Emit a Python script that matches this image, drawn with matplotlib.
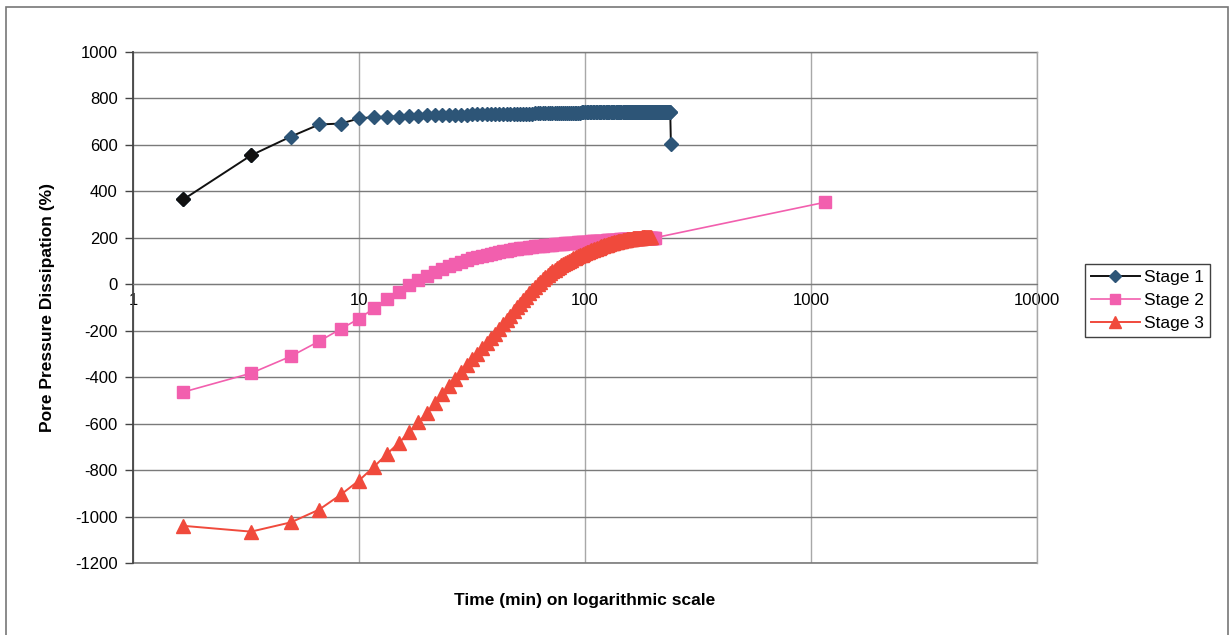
import matplotlib
matplotlib.use("Agg")
import matplotlib.pyplot as plt
from matplotlib.patches import Rectangle
from matplotlib.ticker import FixedLocator, FixedFormatter, NullLocator

plt.rcParams['font.family'] = ['Liberation Sans', 'DejaVu Sans']
plt.rcParams['axes.unicode_minus'] = False

# readings every 100 s, in minutes
minutes = [
    1.67, 3.33, 5.0, 6.67, 8.33, 10.0, 11.67, 13.33, 15.0, 16.67, 18.33, 20.0,
    21.67, 23.33, 25.0, 26.67, 28.33, 30.0, 31.67, 33.33, 35.0, 36.67, 38.33, 40.0,
    41.67, 43.33, 45.0, 46.67, 48.33, 50.0, 51.67, 53.33, 55.0, 56.67, 58.33, 60.0,
    61.67, 63.33, 65.0, 66.67, 68.33, 70.0, 71.67, 73.33, 75.0, 76.67, 78.33, 80.0,
    81.67, 83.33, 85.0, 86.67, 88.33, 90.0, 91.67, 93.33, 95.0, 96.67, 98.33, 100.0,
    101.67, 103.33, 105.0, 106.67, 108.33, 110.0, 111.67, 113.33, 115.0, 116.67, 118.33, 120.0,
    121.67, 123.33, 125.0, 126.67, 128.33, 130.0, 131.67, 133.33, 135.0, 136.67, 138.33, 140.0,
    141.67, 143.33, 145.0, 146.67, 148.33, 150.0, 151.67, 153.33, 155.0, 156.67, 158.33, 160.0,
    161.67, 163.33, 165.0, 166.67, 168.33, 170.0, 171.67, 173.33, 175.0, 176.67, 178.33, 180.0,
    181.67, 183.33, 185.0, 186.67, 188.33, 190.0, 191.67, 193.33, 195.0, 196.67, 198.33, 200.0,
    201.67, 203.33, 205.0, 206.67, 208.33, 210.0, 211.67, 213.33, 215.0, 216.67, 218.33, 220.0,
    221.67, 223.33, 225.0, 226.67, 228.33, 230.0, 231.67, 233.33, 235.0, 236.67, 238.33, 240.0,
]

stage1 = [
    365, 555, 636, 688, 692, 714, 720, 722, 722, 725, 726, 727,
    728, 728, 729, 729, 730, 730, 731, 731, 731, 732, 732, 732,
    733, 733, 733, 734, 734, 734, 734, 735, 735, 735, 735, 736,
    736, 736, 736, 736, 737, 737, 737, 737, 737, 738, 738, 738,
    738, 738, 738, 739, 739, 739, 739, 739, 739, 740, 740, 740,
    740, 740, 740, 740, 741, 740, 741, 741, 740, 741, 741, 741,
    741, 741, 741, 741, 741, 741, 741, 741, 741, 741, 741, 741,
    741, 742, 741, 742, 742, 741, 742, 742, 742, 742, 742, 742,
    742, 742, 742, 742, 742, 742, 742, 742, 742, 742, 742, 742,
    742, 742, 742, 742, 742, 742, 742, 742, 742, 742, 742, 742,
    742, 742, 743, 742, 743, 743, 742, 743, 743, 743, 743, 743,
    743, 743, 743, 743, 743, 743, 743, 743, 743, 743, 743, 605,
]

stage2 = [
    -464, -383, -310, -245, -192, -148, -103, -65, -32, -5, 17, 36,
    51, 65, 77, 88, 97, 105, 111, 117, 122, 126, 131, 135,
    138, 142, 145, 148, 150, 153, 155, 156, 158, 160, 161, 163,
    164, 165, 166, 167, 169, 170, 171, 172, 172, 173, 174, 175,
    176, 176, 177, 178, 178, 179, 179, 180, 181, 181, 182, 183,
    183, 184, 184, 185, 185, 185, 186, 186, 187, 187, 187, 188,
    188, 188, 189, 189, 190, 190, 190, 191, 191, 191, 192, 192,
    192, 193, 193, 193, 194, 194, 194, 195, 195, 195, 196, 196,
    196, 196, 197, 197, 197, 197, 197, 198, 198, 198, 198, 198,
    198, 199, 199, 199, 199, 199, 199, 199, 200, 200, 200, 200,
    200, 200,
]
stage2_last_time = 1153
stage2_last_value = 353

stage3 = [
    -1040, -1065, -1025, -970, -905, -845, -785, -730, -683, -637, -593, -553,
    -512, -474, -439, -406, -377, -349, -323, -299, -276, -254, -232, -212,
    -192, -172, -153, -135, -117, -100, -84, -68, -53, -38, -24, -10,
    1, 11, 21, 31, 41, 50, 57, 63, 70, 76, 82, 88,
    93, 97, 102, 106, 111, 115, 118, 122, 125, 128, 132, 135,
    138, 140, 143, 146, 148, 151, 153, 156, 158, 160, 163, 165,
    167, 169, 170, 172, 174, 176, 177, 179, 181, 182, 184, 185,
    186, 187, 188, 189, 190, 191, 192, 193, 194, 195, 196, 197,
    197, 198, 198, 199, 199, 199, 200, 200, 201, 201, 202, 202,
    202, 203, 203, 203, 204, 204, 204, 205, 205,
]

x_ticks = [1, 10, 100, 1000, 10000]
x_labels = ['1', '10', '100', '1000', '10000']
y_ticks = list(range(-1200, 1001, 200))

fig = plt.figure(figsize=(12.31, 6.35), dpi=100)
ax = fig.add_axes([0.108, 0.1134, 0.7344, 0.8047])

t1 = minutes[:len(stage1)]
t2 = minutes[:len(stage2)] + [stage2_last_time]
v2 = stage2 + [stage2_last_value]
t3 = minutes[:len(stage3)]

ax.plot(t1, stage1, color='#111111', lw=1.4, marker='D', ms=7.5,
        mfc='#2d5577', mec='#2d5577', label='Stage 1', zorder=3)
# first two readings print dark
ax.plot(t1[:2], stage1[:2], ls='none', marker='D', ms=7.5,
        mfc='#111111', mec='#111111', zorder=3)
ax.plot(t2, v2, color='#f25fae', lw=1.2, marker='s', ms=8.5,
        mfc='#f25fae', mec='#f25fae', label='Stage 2', zorder=4)
ax.plot(t3, stage3, color='#f04a3c', lw=1.4, marker='^', ms=9.5,
        mfc='#f04a3c', mec='#f04a3c', label='Stage 3', zorder=5)

ax.set_xscale('log')
ax.set_xlim(1, 10000)
ax.set_ylim(-1200, 1000)
ax.xaxis.set_major_locator(FixedLocator(x_ticks))
ax.xaxis.set_major_formatter(FixedFormatter(x_labels))
ax.xaxis.set_minor_locator(NullLocator())
ax.set_yticks(y_ticks)
ax.set_yticklabels([str(v) for v in y_ticks])

ax.grid(True, axis='y', color='#7a7a7a', lw=1.0, zorder=1)
ax.grid(True, axis='x', color='#a8a8a8', lw=1.0, zorder=1)
ax.set_axisbelow(True)
# keep the edge gridlines from being clipped
ax.axhline(-1200, color='#7a7a7a', lw=1.2, clip_on=False, zorder=1)
ax.axhline(1000, color='#7a7a7a', lw=1.0, clip_on=False, zorder=1)
ax.axvline(10000, color='#a8a8a8', lw=1.0, clip_on=False, zorder=1)

for side in ['top', 'right']:
    ax.spines[side].set_visible(False)
ax.spines['left'].set_color('#444444')
ax.spines['left'].set_linewidth(1.3)
ax.spines['bottom'].set_position(('data', 0))
ax.spines['bottom'].set_color('#7a7a7a')

ax.tick_params(axis='x', length=0, pad=6, labelsize=12)
ax.tick_params(axis='y', length=6, width=1, color='#444444', pad=5, labelsize=12)

ax.set_xlabel('Time (min) on logarithmic scale', fontsize=12.5, fontweight='bold')
ax.xaxis.set_label_coords(0.5, -0.058)
ax.set_ylabel('Pore Pressure Dissipation (%)', fontsize=12.5, fontweight='bold')
ax.yaxis.set_label_coords(-0.086, 0.5)

leg = ax.legend(loc='upper left', bbox_to_anchor=(0.8814, 0.5843),
                bbox_transform=fig.transFigure, borderaxespad=0,
                fancybox=False, frameon=True, fontsize=12.5,
                handlelength=2.8, handletextpad=0.25, labelspacing=0.45,
                borderpad=0.35, markerscale=0.85)
leg.get_frame().set_edgecolor('#111111')
leg.get_frame().set_linewidth(1.0)

# outer chart border
fig.add_artist(Rectangle((0.0049, -0.02), 0.9927, 1.0089, transform=fig.transFigure,
                         fill=False, edgecolor='#777777', lw=1.2))

fig.savefig('out.png', dpi=100)
